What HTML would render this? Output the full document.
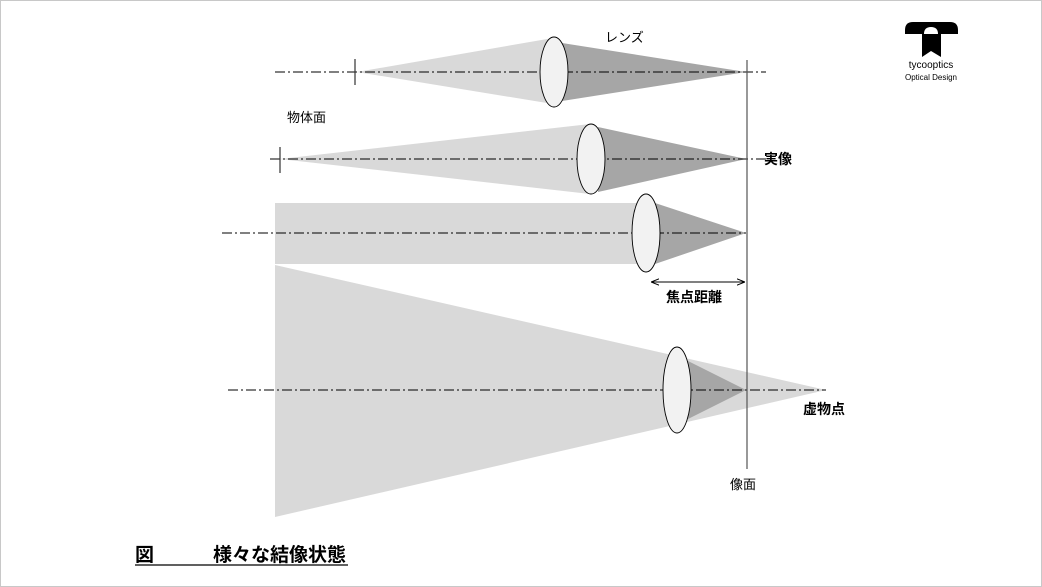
<!DOCTYPE html>
<html><head><meta charset="utf-8"><style>
body{margin:0;background:#fff}
.w{position:relative;width:1040px;height:585px;border:1px solid #c8c8c8;overflow:hidden;font-family:"Liberation Sans","Noto Sans CJK JP",sans-serif}
svg{position:absolute;left:-1px;top:-1px}
</style></head><body><div class="w">
<svg width="1042" height="587" viewBox="0 0 1042 587" font-family="Liberation Sans, Noto Sans CJK JP, sans-serif">
<defs><marker id="a" viewBox="0 0 10 10" refX="10" refY="5" markerWidth="8" markerHeight="8" orient="auto-start-reverse"><path d="M0,1 L10,5 L0,9" fill="none" stroke="#000" stroke-width="1.2"/></marker></defs>
<polygon points="357,72 553,38 553,104" fill="#d9d9d9"/>
<polygon points="562,43 746,72 562,101" fill="#a6a6a6"/>
<polygon points="280,159 590,124 590,194" fill="#d9d9d9"/>
<polygon points="598,127 746,159 598,192" fill="#a6a6a6"/>
<rect x="275" y="203" width="372" height="61" fill="#d9d9d9"/>
<polygon points="655,203 746,233 655,264" fill="#a6a6a6"/>
<polygon points="275,265 826,390 275,517" fill="#d9d9d9"/>
<polygon points="686,360 746,390 686,420" fill="#a6a6a6"/>
<g stroke="#000" stroke-width="1" stroke-dasharray="10,3,2,3" fill="none">
<line x1="275" y1="72" x2="766" y2="72"/>
<line x1="270" y1="159" x2="766" y2="159"/>
<line x1="222" y1="233" x2="746" y2="233"/>
<line x1="228" y1="390" x2="826" y2="390"/>
</g>
<g fill="#f2f2f2" stroke="#000" stroke-width="0.9">
<ellipse cx="554" cy="72" rx="14" ry="35"/>
<ellipse cx="591" cy="159" rx="14" ry="35"/>
<ellipse cx="646" cy="233" rx="14" ry="39"/>
<ellipse cx="677" cy="390" rx="14" ry="43"/>
</g>
<g stroke="#333" stroke-width="1.2">
<line x1="355" y1="59" x2="355" y2="85"/>
<line x1="280" y1="147" x2="280" y2="173"/>
</g>
<line x1="747" y1="60" x2="747" y2="469" stroke="#555" stroke-width="1.2"/>
<line x1="651" y1="282" x2="745" y2="282" stroke="#000" stroke-width="1" marker-start="url(#a)" marker-end="url(#a)"/>
<g font-size="13" fill="#000">
<text x="605" y="42">レンズ</text>
<text x="287" y="122">物体面</text>
<text x="730" y="489">像面</text>
</g>
<g font-size="14" font-weight="bold" fill="#000">
<text x="764" y="164">実像</text>
<text x="666" y="302">焦点距離</text>
<text x="803" y="414">虚物点</text>
</g>
<g font-size="19" font-weight="bold" fill="#000">
<text x="135" y="561">図</text>
<text x="213" y="561">様々な結像状態</text>
</g>
<line x1="135" y1="565" x2="348" y2="565" stroke="#000" stroke-width="1.3"/>
<path d="M905,30 Q905,22 913,22 L950,22 Q958,22 958,30 L958,34 L905,34 Z" fill="#000"/>
<path d="M922,34 L922,57 L931,51 L941,57 L941,34 Z" fill="#000"/>
<path d="M924,34 Q924,27 931,27 Q938,27 938,34 Z" fill="#fff"/>
<text x="931" y="68" font-size="10" text-anchor="middle">tycooptics</text>
<text x="931" y="80" font-size="8" text-anchor="middle">Optical Design</text>
</svg></div></body></html>
